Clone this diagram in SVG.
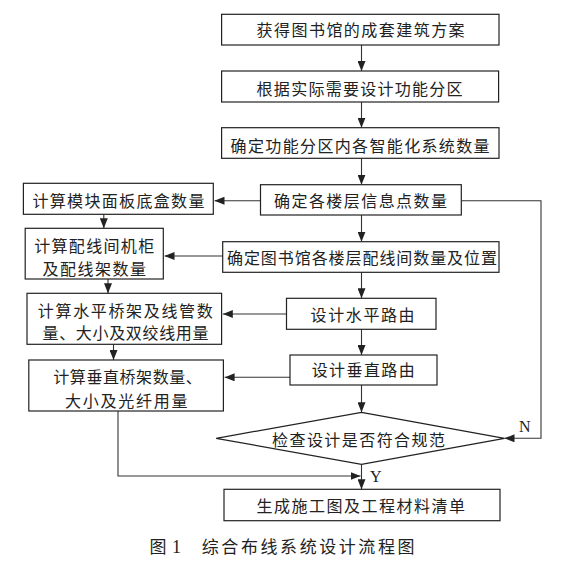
<svg xmlns="http://www.w3.org/2000/svg" width="565" height="565" viewBox="0 0 565 565">
<defs>
<marker id="ah" markerWidth="10" markerHeight="8" refX="10" refY="4" orient="auto" markerUnits="userSpaceOnUse"><path d="M0,0 L10,4 L0,8 z" fill="#222"/></marker>
<style>
.box{fill:#fff;stroke:#222;stroke-width:1.2}
.t{font-family:"Noto Sans CJK SC","Noto Sans",sans-serif;font-size:16px;fill:#222}
.c{fill:none;stroke:#333;stroke-width:1.1}
.l{font-family:"Liberation Serif",serif;font-size:16px;fill:#222}
</style>
</defs>
<rect width="565" height="565" fill="#fff"/>
<g id="connectors">
<path class="c" d="M361.5,45 V71" marker-end="url(#ah)"/>
<path class="c" d="M361.5,102 V127.7" marker-end="url(#ah)"/>
<path class="c" d="M361.5,158.3 V184.7" marker-end="url(#ah)"/>
<path class="c" d="M361.5,215 V241.7" marker-end="url(#ah)"/>
<path class="c" d="M361.5,272.3 V298.3" marker-end="url(#ah)"/>
<path class="c" d="M361.5,329.3 V355" marker-end="url(#ah)"/>
<path class="c" d="M361.5,385 V412.3" marker-end="url(#ah)"/>
<path class="c" d="M361.5,464.3 V489.3" marker-end="url(#ah)"/>
<path class="c" d="M260.5,200.7 H214.5" marker-end="url(#ah)"/>
<path class="c" d="M222.7,256 H164.5" marker-end="url(#ah)"/>
<path class="c" d="M286.5,314 H222.8" marker-end="url(#ah)"/>
<path class="c" d="M290,377.3 H224.6" marker-end="url(#ah)"/>
<path class="c" d="M103.8,214.3 V228.3" marker-end="url(#ah)"/>
<path class="c" d="M108,279 V293.3" marker-end="url(#ah)"/>
<path class="c" d="M113.5,344.3 V360" marker-end="url(#ah)"/>
<path class="c" d="M118,411 V476 H360.5" marker-end="url(#ah)"/>
<path class="c" d="M461.3,200.7 H541 V438.3 H504.5" marker-end="url(#ah)"/>
<text class="l" x="519" y="432">N</text>
<text class="l" x="370" y="482">Y</text>
</g>
<g id="n1"><rect class="box" x="221.6" y="14.3" width="277.4" height="30.7"/><text class="t" x="256.6" y="36" textLength="208" lengthAdjust="spacing">获得图书馆的成套建筑方案</text></g>
<g id="n2"><rect class="box" x="221.6" y="71" width="277" height="31"/><text class="t" x="256.6" y="95.3" textLength="206" lengthAdjust="spacing">根据实际需要设计功能分区</text></g>
<g id="n3"><rect class="box" x="221.6" y="127.7" width="277.4" height="30.6"/><text class="t" x="230.6" y="151.7" textLength="259" lengthAdjust="spacing">确定功能分区内各智能化系统数量</text></g>
<g id="n4"><rect class="box" x="260.5" y="184.7" width="200.8" height="30.3"/><text class="t" x="274" y="206.7" textLength="173" lengthAdjust="spacing">确定各楼层信息点数量</text></g>
<g id="nA"><rect class="box" x="23.4" y="183.3" width="189.9" height="31"/><text class="t" x="32.4" y="206.7" textLength="172" lengthAdjust="spacing">计算模块面板底盒数量</text></g>
<g id="nB"><rect class="box" x="25.2" y="228.3" width="138.1" height="50.7"/><text class="t" x="34.2" y="252" textLength="120" lengthAdjust="spacing">计算配线间机柜</text><text class="t" x="42.5" y="275.3" textLength="103.5" lengthAdjust="spacing">及配线架数量</text></g>
<g id="n5"><rect class="box" x="222.7" y="241.7" width="276.3" height="30.6"/><text class="t" x="227" y="264.3" textLength="270" lengthAdjust="spacing">确定图书馆各楼层配线间数量及位置</text></g>
<g id="nC"><rect class="box" x="27" y="293.3" width="194.6" height="51"/><text class="t" x="37.8" y="317" textLength="175" lengthAdjust="spacing">计算水平桥架及线管数</text><text class="t" x="42.5" y="339.3" textLength="166" lengthAdjust="spacing">量、大小及双绞线用量</text></g>
<g id="n6"><rect class="box" x="286.5" y="298.3" width="149.5" height="31"/><text class="t" x="310.6" y="321" textLength="104" lengthAdjust="spacing">设计水平路由</text></g>
<g id="n7"><rect class="box" x="290" y="355" width="147" height="30"/><text class="t" x="311.7" y="376" textLength="103" lengthAdjust="spacing">设计垂直路由</text></g>
<g id="nD"><rect class="box" x="28.8" y="360" width="194.6" height="51"/><text class="t" x="53.3" y="382.7" textLength="148.5" lengthAdjust="spacing">计算垂直桥架数量、</text><text class="t" x="64.9" y="406.7" textLength="122.5" lengthAdjust="spacing">大小及光纤用量</text></g>
<g id="nE"><polygon class="box" points="361.5,412.3 504.5,438.3 361.5,464.3 216.2,438.3"/><text class="t" x="272" y="446" textLength="173" lengthAdjust="spacing">检查设计是否符合规范</text></g>
<g id="n8"><rect class="box" x="224" y="489.3" width="276" height="31.4"/><text class="t" x="256.6" y="512" textLength="208.4" lengthAdjust="spacing">生成施工图及工程材料清单</text></g>
<g id="caption"><text class="t" x="149.5" y="553" style="font-size:17px">图</text><text class="l" x="172" y="553" style="font-size:18px">1</text><text class="t" x="201.8" y="553" style="font-size:17px" textLength="212.7" lengthAdjust="spacing">综合布线系统设计流程图</text></g>
</svg>
